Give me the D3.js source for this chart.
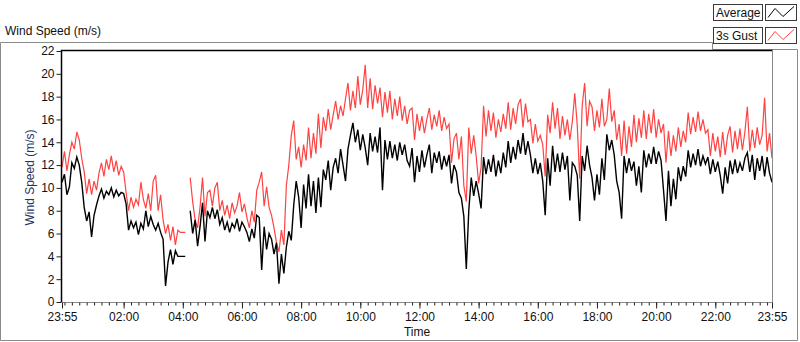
<!DOCTYPE html>
<html>
<head>
<meta charset="utf-8">
<script src="https://cdn.jsdelivr.net/npm/d3@7"></script>
<style>
    html, body { margin: 0; padding: 0; background: #fff; }
    svg { display: block; font-family: "Liberation Sans", Arial, sans-serif; }
</style>
</head>
<body>
<div id="chart"></div>
<script>
// Wind speed chart, 5-minute samples from 23:55 to 23:55 next day

const seriesNames = ["Average", "3s Gust"];
const seriesColors = ["#000000", "#ff4242"];
const yTicks = [0, 2, 4, 6, 8, 10, 12, 14, 16, 18, 20, 22];
const xTickLabels = ["23:55", "02:00", "04:00", "06:00", "08:00", "10:00", "12:00",
    "14:00", "16:00", "18:00", "20:00", "22:00", "23:55"];
const sampleStepMinutes = 5;

// Average wind speed (m/s), null = no data
const avgSpeed = [
    10.5, 11.2, 9.4, 10.1, 12.2, 11.7, 12.7, 12.0, 10.5, 8.3, 7.1, 7.9,
    5.7, 7.6, 8.5, 9.3, 9.9, 9.1, 9.7, 9.4, 10.0, 9.2, 9.8, 9.3,
    9.6, 9.5, 8.6, 6.3, 7.1, 6.5, 7.0, 5.9, 6.9, 6.4, 8.0, 6.6,
    7.5, 6.8, 6.3, 6.9, 6.1, 5.5, 1.4, 3.5, 4.6, 3.3, 4.5, 4.0,
    4.0, 4.0, 4.0, null, 8.0, 6.0, 7.2, 4.9, 6.6, 8.7, 5.3, 8.0,
    7.4, 8.3, 7.3, 8.1, 6.8, 7.4, 6.3, 7.0, 6.1, 6.9, 6.5, 7.3,
    6.2, 7.0, 6.6, 6.1, 5.3, 6.4, 5.6, 7.6, 7.4, 2.8, 6.6, 4.6,
    6.0, 5.5, 4.2, 5.2, 1.6, 4.2, 2.5, 4.8, 6.2, 5.4, 8.5, 10.6,
    9.2, 6.5, 10.3, 8.2, 11.2, 8.4, 10.6, 7.8, 10.9, 8.3, 11.6, 10.7,
    12.4, 9.8, 11.8, 12.6, 11.3, 13.4, 12.0, 10.6, 13.4, 14.6, 15.7, 14.0,
    15.1, 13.3, 14.7, 13.5, 12.0, 14.8, 13.2, 14.5, 13.1, 15.3, 9.8, 14.2,
    12.5, 14.1, 12.6, 13.8, 12.4, 14.0, 12.9, 13.8, 12.4, 11.9, 13.5, 10.5,
    12.8, 11.4, 13.3, 11.8, 12.9, 13.8, 11.3, 13.1, 12.2, 13.2, 11.6, 12.8,
    11.9, 12.9, 10.4, 12.0, 11.4, 9.6, 9.1, 7.5, 2.9, 8.0, 10.9, 9.3,
    10.6, 9.5, 8.2, 12.7, 11.2, 12.5, 11.4, 12.9, 11.0, 12.4, 11.3, 13.1,
    11.8, 14.1, 12.2, 13.6, 12.5, 14.2, 13.0, 14.8, 12.9, 14.1, 12.9, 11.3,
    12.6, 11.2, 12.2, 10.6, 7.6, 12.6, 10.2, 13.7, 11.4, 13.0, 11.4, 13.1,
    11.6, 12.8, 8.9, 12.2, 11.9, 11.1, 7.1, 12.8, 11.5, 13.7, 12.0, 10.9,
    8.9, 11.2, 9.4, 12.6, 10.7, 14.7, 13.3, 14.2, 12.9, 10.6, 9.6, 7.3,
    12.8, 11.3, 12.6, 11.5, 12.3, 10.2, 11.9, 9.6, 13.3, 11.8, 13.0, 12.1,
    13.6, 12.1, 13.2, 12.4, 9.8, 7.1, 11.5, 8.4, 10.8, 9.0, 11.8, 10.6,
    11.9, 11.0, 13.3, 11.8, 13.0, 12.0, 13.4, 11.9, 12.8, 12.1, 12.7, 11.2,
    12.5, 11.4, 12.3, 11.1, 9.5, 11.8, 10.4, 12.4, 11.2, 12.5, 11.3, 12.2,
    11.5, 12.6, 13.1, 11.4, 12.9, 10.7, 12.6, 11.5, 12.8, 11.0, 12.7, 11.3,
    10.5
];

// 3 second gust (m/s), null = no data
const gustSpeed = [
    11.8, 13.2, 11.5, 12.9, 14.0, 13.4, 14.9, 14.2, 12.6, 11.4, 9.5, 10.8,
    9.4, 10.6, 9.8, 11.3, 12.2, 11.0, 12.5, 11.6, 12.8, 11.4, 12.4, 11.1,
    11.9, 11.4, 9.6, 8.0, 9.2, 8.3, 9.0, 8.5, 10.5, 9.0, 8.2, 9.5,
    8.0, 10.6, 11.1, 8.0, 9.4, 7.2, 6.0, 6.8, 5.4, 6.6, 5.0, 6.3,
    6.1, 6.1, 6.1, null, 10.9, 8.8, 7.2, 6.5, 8.3, 10.9, 7.5, 9.6,
    9.8, 8.4, 10.0, 10.5, 8.0, 8.9, 7.6, 8.5, 7.3, 8.7, 7.8, 8.4,
    9.6, 7.9, 8.6, 7.4, 6.5, 8.0, 7.0, 9.8, 10.5, 11.4, 8.4, 10.1,
    8.3, 7.6, 6.5, 5.2, 4.4, 6.3, 5.0, 10.2, 12.0, 14.6, 15.9, 12.5,
    13.6, 11.8, 13.8, 12.4, 15.3, 12.6, 14.8, 13.0, 16.5, 13.5, 16.2, 15.0,
    16.9, 15.1, 16.4, 17.6, 16.0, 17.2, 16.3, 17.8, 19.2, 16.8, 18.5, 17.0,
    19.8, 17.3, 18.6, 20.8, 17.0, 19.6, 16.9, 19.0, 17.4, 18.8, 16.2, 18.4,
    16.6, 18.5, 16.0, 17.8, 16.3, 18.0, 15.9, 17.2, 15.6, 16.8, 17.0, 14.2,
    16.5, 15.0, 16.3, 14.8, 16.0, 17.0, 15.1, 16.4, 15.4, 16.8, 15.0, 16.2,
    15.2, 15.6, 12.2, 14.3, 14.8, 12.5, 14.5, 10.2, 8.8, 15.3, 13.0, 14.6,
    12.8, 10.4, 11.8, 17.2, 14.5, 16.8, 15.0, 16.6, 14.4, 16.0, 14.9, 16.5,
    15.2, 17.5, 15.1, 17.0, 15.6, 17.3, 17.8, 15.3, 17.4, 15.8, 16.0, 13.9,
    15.6, 14.1, 14.6, 13.8, 11.0, 16.4, 14.8, 17.5, 15.2, 17.0, 14.3, 16.3,
    14.6, 16.0, 14.2, 15.8, 18.3, 15.5, 10.8, 17.2, 19.2, 15.4, 17.6, 17.1,
    15.0, 16.8, 15.3, 17.8, 15.4, 16.0, 18.7, 15.8, 16.8, 14.2, 15.6, 12.8,
    15.9, 13.0, 15.4, 13.6, 16.4, 14.0, 16.1, 14.4, 16.8, 14.3, 16.5, 14.8,
    16.9, 14.4, 16.0, 14.8, 15.6, 12.2, 15.0, 12.8, 14.6, 13.2, 15.3, 13.6,
    15.0, 14.0, 16.6, 14.7, 16.2, 14.9, 16.7, 15.0, 16.0, 14.8, 15.1, 12.8,
    14.8, 13.2, 14.5, 12.7, 14.9, 12.9, 14.6, 15.4, 13.1, 15.0, 13.4, 15.2,
    13.3, 14.9, 17.1, 13.2, 15.1, 13.5, 15.3, 13.8, 14.6, 17.9, 13.2, 14.8,
    12.6
];

const width = 800;
const height = 342;
const plot = { left: 62, right: 772, top: 51, bottom: 302 };

const startTime = new Date(2020, 0, 1, 23, 55);
const endTime = new Date(2020, 0, 2, 23, 55);

function sampleTime(i) {
    return new Date(startTime.getTime() + i * sampleStepMinutes * 60000);
}

// turn "HH:MM" labels into dates; first label is on the start day
function labelToDate(label, idx) {
    const [hh, mm] = label.split(":").map(Number);
    const day = idx === 0 ? 1 : 2;
    return new Date(2020, 0, day, hh, mm);
}

const svg = d3.select("#chart").append("svg")
    .attr("width", width)
    .attr("height", height);

const x = d3.scaleTime()
    .domain([startTime, endTime])
    .range([plot.left, plot.right]);

const y = d3.scaleLinear()
    .domain([0, 22])
    .range([plot.bottom, plot.top]);

// outer frame, notched round the legend panel
svg.append("path")
    .attr("d", "M0.5,42.5 H712.5 V49.5 H797.5 V340.5 H0.5 Z")
    .attr("fill", "none")
    .attr("stroke", "#8a8a8a");

svg.append("text")
    .attr("x", 5)
    .attr("y", 35)
    .attr("font-size", 12)
    .attr("fill", "#111")
    .text("Wind Speed (m/s)");

// legend
const legend = svg.append("g").attr("class", "legend");
seriesNames.forEach((name, i) => {
    const top = 4.5 + i * 23;
    legend.append("rect")
        .attr("x", 713.5).attr("y", top)
        .attr("width", 49).attr("height", 16)
        .attr("fill", "#fff")
        .attr("stroke", "#3a3a3a");
    legend.append("text")
        .attr("x", 716)
        .attr("y", top + 12.5)
        .attr("font-size", 12)
        .attr("fill", "#111")
        .text(name);
    legend.append("rect")
        .attr("x", 765.5).attr("y", top)
        .attr("width", 31).attr("height", 16)
        .attr("fill", "#fff")
        .attr("stroke", "#3a3a3a");
    legend.append("path")
        .attr("d", `M768,${top + 13} L775,${top + 4} L783,${top + 12} L794,${top + 2}`)
        .attr("fill", "none")
        .attr("stroke", seriesColors[i])
        .attr("stroke-width", 1);
});

// plot area
svg.append("defs").append("clipPath")
    .attr("id", "plot-clip")
    .append("rect")
    .attr("x", plot.left).attr("y", plot.top)
    .attr("width", plot.right - plot.left)
    .attr("height", plot.bottom - plot.top);

const lineGen = d3.line()
    .defined(d => d != null)
    .x((d, i) => x(sampleTime(i)))
    .y(d => y(d));

const lineLayer = svg.append("g").attr("clip-path", "url(#plot-clip)");

// gust behind, average on top
lineLayer.append("path")
    .datum(gustSpeed)
    .attr("fill", "none")
    .attr("stroke", seriesColors[1])
    .attr("stroke-width", 1.2)
    .attr("d", lineGen);

lineLayer.append("path")
    .datum(avgSpeed)
    .attr("fill", "none")
    .attr("stroke", seriesColors[0])
    .attr("stroke-width", 1.4)
    .attr("d", lineGen);

// plot border: top/left dark, right/bottom grey
svg.append("path")
    .attr("d", `M${plot.left - 0.5},${plot.bottom} V${plot.top - 0.5} H${plot.right + 0.5}`)
    .attr("fill", "none")
    .attr("stroke", "#000")
    .attr("stroke-width", 1.5);
svg.append("path")
    .attr("d", `M${plot.right + 0.5},${plot.top} V${plot.bottom + 0.5} H${plot.left - 0.5}`)
    .attr("fill", "none")
    .attr("stroke", "#8a8a8a")
    .attr("stroke-width", 1);

// y axis
const yAxis = svg.append("g")
    .attr("transform", `translate(${plot.left - 0.5},0)`)
    .call(d3.axisLeft(y).tickValues(yTicks).tickSize(5).tickPadding(2));
yAxis.select(".domain").remove();
yAxis.selectAll("text").attr("font-size", 12).attr("fill", "#111")
    .attr("font-family", "\"Liberation Sans\", Arial, sans-serif");
yAxis.selectAll("line").attr("stroke", "#222");

svg.append("text")
    .attr("transform", `translate(34, ${(plot.top + plot.bottom) / 2 + 1}) rotate(-90)`)
    .attr("text-anchor", "middle")
    .attr("font-size", 12)
    .attr("fill", "#23355e")
    .text("Wind Speed (m/s)");

// x axis: 15 minute minor ticks, labelled major ticks
const minorTicks = d3.timeMinute.every(15).range(startTime, endTime)
    .filter(d => d > startTime);
const majorTicks = xTickLabels.map(labelToDate);

const xMinor = svg.append("g")
    .attr("transform", `translate(0,${plot.bottom + 0.5})`)
    .call(d3.axisBottom(x).tickValues(minorTicks).tickSize(3).tickFormat(""));
xMinor.select(".domain").remove();
xMinor.selectAll("line").attr("stroke", "#222");

const xMajor = svg.append("g")
    .attr("transform", `translate(0,${plot.bottom + 0.5})`)
    .call(d3.axisBottom(x).tickValues(majorTicks).tickSize(6).tickPadding(4)
        .tickFormat(d3.timeFormat("%H:%M")));
xMajor.select(".domain").remove();
xMajor.selectAll("line").attr("stroke", "#222");
xMajor.selectAll("text").attr("font-size", 12).attr("fill", "#111")
    .attr("font-family", "\"Liberation Sans\", Arial, sans-serif");

svg.append("text")
    .attr("x", (plot.left + plot.right) / 2)
    .attr("y", 336)
    .attr("text-anchor", "middle")
    .attr("font-size", 12)
    .attr("fill", "#111")
    .text("Time");
</script>
</body>
</html>
